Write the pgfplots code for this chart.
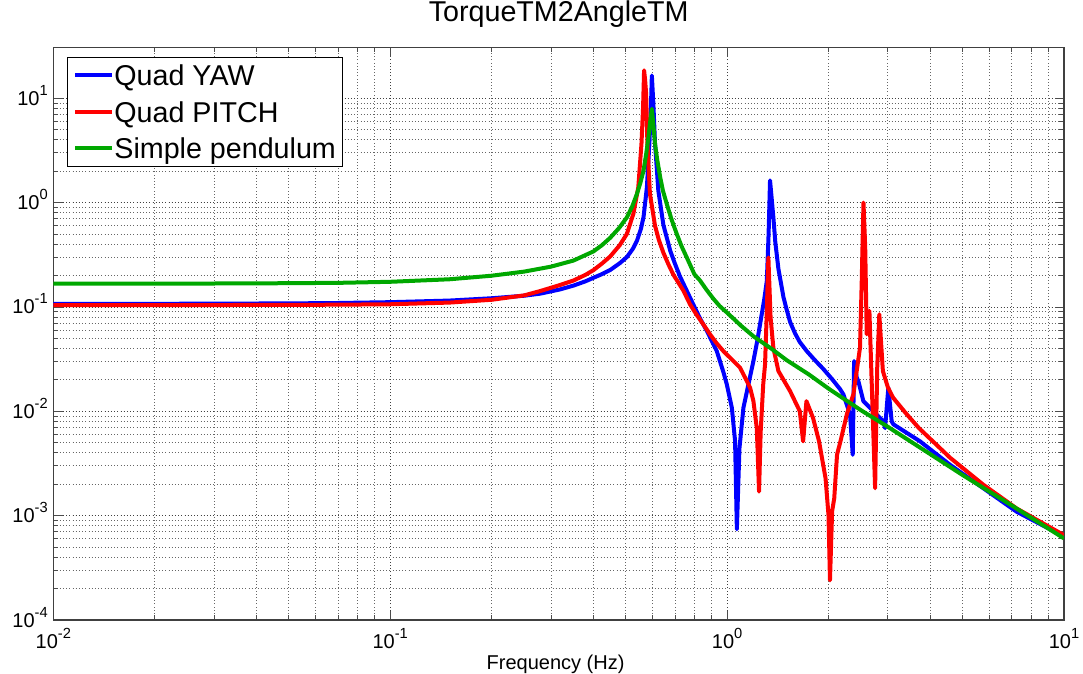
\documentclass[border=0pt]{standalone}
\usepackage{fontspec}
\setmainfont{Liberation Sans}
\usepackage{pgfplots}
\pgfplotsset{compat=1.18}
\definecolor{mblue}{rgb}{0,0,1}
\definecolor{mred}{rgb}{1,0,0}
\definecolor{mgreen}{rgb}{0,0.66,0}
\newcommand{\tl}[1]{10\raisebox{0.5em}{\fontsize{11}{11}\selectfont #1}}
\begin{document}
\begin{tikzpicture}
\begin{axis}[
 at={(0,0)}, anchor=south west,
 scale only axis, width=758pt, height=429.5pt,
 xmode=log, ymode=log,
 xmin=0.01, xmax=10, ymin=1e-4, ymax=30.7,
 xtick={0.01,0.1,1,10},
 xticklabels={\tl{-2},\tl{-1},\tl{0},\tl{1}},
 ytick={1e-4,1e-3,1e-2,1e-1,1,10},
 yticklabels={\tl{-4},\tl{-3},\tl{-2},\tl{-1},\tl{0},\tl{1}},
 ticklabel style={font=\fontsize{15}{16}\selectfont, inner sep=0pt},
 xticklabel style={anchor=base, yshift=-21.5pt},
 yticklabel style={anchor=base east, xshift=-4pt, yshift=-5.3pt},
 grid=both,
 major grid style={dotted, black!75, line width=0.6pt},
 minor grid style={dotted, black!60, line width=0.6pt},
 major tick length=7pt, minor tick length=3.5pt,
 tick style={black!70, line width=0.6pt},
 axis line style={black!75, line width=0.8pt},
 title={TorqueTM2AngleTM},
 title style={font=\fontsize{21.5}{24}\selectfont, at={(axis description cs:0.5,1)}, anchor=base, yshift=13.5pt},
 xlabel={Frequency (Hz)},
 xlabel style={font=\fontsize{15}{17}\selectfont, at={(axis description cs:0.497,0)}, anchor=base, yshift=-37pt},
 legend style={at={(axis description cs:0.0133,0.9836)}, anchor=north west, draw=black, line width=0.6pt, fill=white,
   font=\fontsize{21.5}{24}\selectfont, inner xsep=4.7pt, inner ysep=3pt, row sep=5.85pt,
   nodes={inner sep=0pt, text height=18.6pt, text depth=2.7pt}},
 legend cell align=left,
 legend image code/.code={\draw[#1, line width=3pt] (0pt,0pt) -- (27.75pt,0pt);},
]
\addplot[mblue, line width=3pt, line join=round] coordinates {
(0.01,0.107) (0.02,0.107) (0.03,0.1075) (0.05,0.108) (0.07,0.109) (0.1,0.111) (0.15,0.115) (0.2,0.121)
(0.25,0.128) (0.279,0.134) (0.319,0.147) (0.350,0.160) (0.38,0.176) (0.401,0.19) (0.425,0.206) (0.45,0.226) (0.48,0.262)
(0.504,0.30) (0.525,0.36) (0.54,0.43) (0.555,0.56) (0.565,0.73) (0.578,1.40) (0.588,3.7) (0.594,8.0) (0.598,16.5) (0.601,12)
(0.604,9.0) (0.611,3.7) (0.625,1.3) (0.647,0.61) (0.678,0.345) (0.70,0.26) (0.725,0.195) (0.759,0.143) (0.80,0.10)
(0.832,0.077) (0.871,0.0588) (0.932,0.0377) (0.975,0.0237) (0.998,0.0181) (1.033,0.0108) (1.056,0.0052)
(1.069,0.00074) (1.088,0.0044) (1.118,0.0108) (1.197,0.0303) (1.23,0.048) (1.267,0.085) (1.29,0.12) (1.312,0.178) (1.328,0.5)
(1.341,1.63) (1.356,1.1) (1.372,0.72) (1.39,0.42) (1.42,0.232) (1.47,0.124) (1.50,0.096) (1.538,0.0718) (1.59,0.056) (1.644,0.046) (1.724,0.0377)
(1.82,0.031) (1.931,0.0254) (2.05,0.0203) (2.164,0.0163) (2.214,0.0145) (2.317,0.0093) (2.36,0.00383) (2.382,0.0303) (2.426,0.021)
(2.453,0.0194) (2.538,0.0125) (2.718,0.0100) (2.91,0.0080) (2.944,0.0069) (3.01,0.0168) (3.08,0.0080)
(3.115,0.0075) (3.739,0.00515) (4.589,0.00307) (5.762,0.00183) (7.237,0.00109) (10,0.00063)
};
\addlegendentry{Quad YAW}
\addplot[mred, line width=3pt, line join=round] coordinates {
(0.01,0.104) (0.02,0.104) (0.05,0.1045) (0.07,0.105) (0.1,0.106) (0.15,0.110) (0.2,0.117) (0.25,0.129)
(0.279,0.142) (0.319,0.162) (0.350,0.179) (0.38,0.203) (0.401,0.225) (0.425,0.26) (0.45,0.305) (0.48,0.39) (0.504,0.50)
(0.527,0.78) (0.545,1.40) (0.557,3.67) (0.563,8.0) (0.567,18.5) (0.571,15) (0.575,11) (0.580,3.7)
(0.590,1.22) (0.611,0.6) (0.627,0.44) (0.647,0.33) (0.67,0.255) (0.693,0.203) (0.742,0.143) (0.776,0.106) (0.81,0.085) (0.85,0.068)
(0.89,0.0546) (0.93,0.045) (0.975,0.0377) (1.044,0.0303) (1.093,0.0261) (1.144,0.0195) (1.17,0.0168) (1.197,0.0125)
(1.225,0.0069) (1.244,0.0017) (1.258,0.0064) (1.28,0.0181) (1.296,0.028) (1.31,0.079) (1.326,0.298)
(1.346,0.079) (1.372,0.0405) (1.42,0.0243) (1.538,0.0156) (1.644,0.0100) (1.681,0.00515) (1.72,0.0125)
(1.80,0.0086) (1.875,0.00515) (1.96,0.00228) (2.0,0.00101) (2.02,0.00024) (2.05,0.0011) (2.08,0.00147)
(2.12,0.00384) (2.17,0.00515) (2.27,0.0095) (2.37,0.0145) (2.48,0.0405) (2.51,0.178) (2.54,1.0) (2.57,0.372)
(2.597,0.0546) (2.645,0.0916) (2.68,0.0243) (2.75,0.00183) (2.79,0.0261) (2.83,0.085) (2.90,0.0243)
(3.0,0.017) (3.11,0.0135) (3.4,0.0095) (3.71,0.0069) (4.59,0.00359) (5.76,0.00198) (7.24,0.00117) (10,0.00065)
};
\addlegendentry{Quad PITCH}
\addplot[mgreen, line width=3pt, line join=round] coordinates {
(0.01,0.167) (0.02,0.167) (0.04,0.168) (0.07,0.170) (0.1,0.174) (0.15,0.184) (0.2,0.199) (0.25,0.218)
(0.3,0.243) (0.35,0.278) (0.401,0.340) (0.425,0.39) (0.45,0.46) (0.478,0.57) (0.504,0.72) (0.523,0.92) (0.54,1.21) (0.553,1.55) (0.565,2.03) (0.575,2.9) (0.584,4.2)
(0.592,6.2) (0.598,7.9) (0.604,5.6) (0.611,3.67) (0.62,2.6) (0.633,1.75) (0.645,1.3) (0.662,0.97) (0.685,0.68) (0.709,0.50) (0.733,0.38) (0.759,0.298)
(0.80,0.205) (0.83,0.18) (0.87,0.145) (0.91,0.12) (0.95,0.102) (1.0,0.088) (1.1,0.066) (1.2,0.052) (1.35,0.040) (1.5,0.031) (1.75,0.0225) (2.0,0.0165) (2.5,0.0102)
(3.0,0.0071) (4.0,0.0039) (5.0,0.00245) (7.0,0.00125) (10,0.000605)
};
\addlegendentry{Simple pendulum}
\end{axis}
\pgfresetboundingbox
\path (-40pt,-40.5pt) rectangle (772.25pt,465pt);
\end{tikzpicture}
\end{document}
